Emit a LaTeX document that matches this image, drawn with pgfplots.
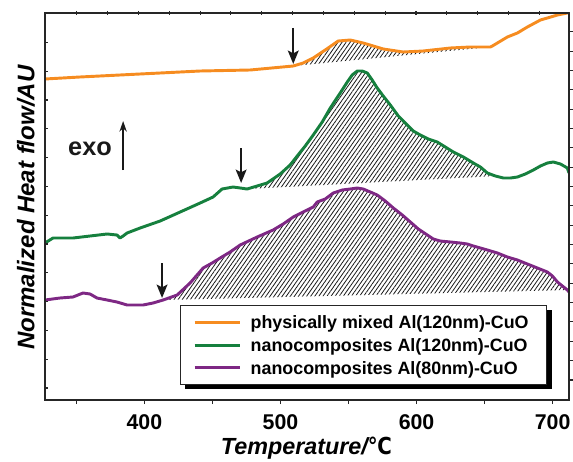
\documentclass[border=0pt]{standalone}
\usepackage{fontspec}
\setmainfont{Liberation Sans}
\newfontfamily\dejavu{DejaVu Sans}
\usepackage{pgfplots}
\pgfplotsset{compat=1.18}
\usetikzlibrary{patterns.meta,arrows.meta}
\definecolor{corange}{RGB}{246,140,32}
\definecolor{cgreen}{RGB}{22,128,62}
\definecolor{cpurple}{RGB}{126,40,132}
\newcommand{\lstrut}{\rule[-0.27em]{0pt}{1.14em}}
\tikzset{hatch/.style={draw=none, pattern={Lines[angle=55,distance=2.5pt,line width=0.6pt]}, pattern color=black!90}}
\pgfplotsset{frame/.style={at={(0,0)}, anchor=south west, width=393pt, height=290.25pt, scale only axis,
  xmin=327, xmax=712, ymin=0, ymax=38.7, axis line style={line width=1pt, black!85},
  every tick/.style={black!85, line width=0.8pt}}}
\begin{document}
\begin{tikzpicture}
\begin{axis}[frame,
  xtick={400,500,600,700}, minor xtick={350,450,550,650},
  xtick pos=bottom, ytick=\empty,
  tick align=outside, major tick length=3pt, minor tick length=3pt,
  xticklabel style={font=\fontsize{16}{16}\selectfont\bfseries, inner sep=0pt},
  xticklabel shift=7.5pt,
  /pgf/number format/assume math mode=true,
  xlabel={\bfseries\itshape Temperature/{\dejavu\bfseries\upshape\scalebox{0.85}[1]{℃}}},
  xlabel style={at={(axis description cs:0.499,-0.095)}, anchor=north, inner sep=0pt, font=\fontsize{17.5}{17.5}\selectfont},
  ylabel={\bfseries\itshape Normalized Heat flow/AU},
  ylabel style={at={(axis description cs:-0.019,0.497)}, anchor=south, inner sep=0pt, font=\fontsize{18}{18}\selectfont},
  legend style={at={(axis description cs:0.2576,0.2455)}, anchor=north west,
    draw=black!85, line width=0.6pt, fill=white,
    font=\fontsize{13.4}{13.4}\selectfont\bfseries,
    inner xsep=6pt, inner ysep=4pt, row sep=0pt, column sep=0pt,
    nodes={inner xsep=7pt},
    cells={anchor=west}},
  legend image code/.code={\path (0pt,0pt); \draw[#1] (3.5pt,0pt) -- (37.5pt,0pt);},
]
% legend shadow
\fill[black] (axis description cs:0.2672,0.2326) rectangle (axis description cs:0.9676,0.0284);
% hatched areas
\addplot[hatch, forget plot] coordinates {
(509.4,33.4)(516.7,33.7)(524.1,34.2)(532.9,35.0)(542.4,35.9)(551.3,36.0)(560.8,35.7)(568.2,35.4)(575.5,35.1)(590.2,34.8)(604.9,34.9)(624.8,35.2)(639.5,35.3)(654.2,35.3)
} -- cycle;
\addplot[hatch, forget plot] coordinates {
(475.5,21.1)(490.2,21.7)(499.8,22.6)(507.1,23.5)(512.3,24.4)(518.2,25.4)(524.1,26.5)(530.7,27.8)(536.6,29.2)(543.9,30.7)(549.1,31.8)(552.7,32.5)(556.4,32.9)(560.1,32.9)(563.8,32.7)(567.4,32.0)(571.1,31.2)(575.5,30.4)(580.7,29.5)(586.6,28.4)(593.2,27.5)(597.6,26.9)(602.7,26.5)(608.6,26.1)(615.2,25.8)(621.1,25.3)(627.0,24.8)(634.4,24.3)(641.7,23.7)(646.9,23.3)(652.0,22.7)(657.9,22.4)
} -- cycle;
\addplot[hatch, forget plot] coordinates {
(413.8,10.0)(424.1,10.5)(433.6,11.7)(443.2,13.2)(449.8,13.7)(455.7,14.2)(463.0,14.8)(470.4,15.5)(482.9,16.3)(494.6,17.0)(502.0,17.6)(509.4,18.3)(516.7,18.8)(524.1,19.3)(527.0,19.8)(532.9,20.1)(538.8,20.7)(545.4,21.0)(551.3,21.1)(556.4,21.2)(560.8,21.1)(566.0,20.8)(571.1,20.5)(577.0,19.9)(582.9,19.2)(589.5,18.5)(595.4,17.8)(601.3,17.1)(607.9,16.5)(612.3,16.1)(617.4,15.9)(624.8,15.8)(632.1,15.7)(637.3,15.6)(641.7,15.4)(646.9,15.2)(652.0,15.0)(659.4,14.7)(666.7,14.3)(674.1,14.0)(681.4,13.6)(688.8,13.2)(696.1,12.8)(699.8,12.4)(703.5,11.8)(707.1,11.4)(710.8,11.0)
} -- cycle;
% curves
\addplot[corange, line width=2.2pt, line join=round] coordinates {
(327.0,32.1)(352.7,32.3)(382.1,32.5)(411.6,32.7)(441.0,32.9)(477.7,33.0)(509.4,33.4)(516.7,33.7)(524.1,34.2)(532.9,35.0)(542.4,35.9)(551.3,36.0)(560.8,35.7)(568.2,35.4)(575.5,35.1)(590.2,34.8)(604.9,34.9)(624.8,35.2)(639.5,35.3)(654.2,35.3)(655.7,35.4)(666.7,36.3)(674.1,36.7)(681.4,37.3)(691.0,38.0)(696.1,38.2)(703.5,38.5)(710.8,38.7)(712.3,38.75)
};
\addlegendentry{\lstrut physically mixed Al(120nm)-CuO}
\addplot[cgreen, line width=2.2pt, line join=round] coordinates {
(327.0,15.7)(332.9,16.2)(347.6,16.2)(360.1,16.4)(372.6,16.6)(379.9,16.5)(382.1,16.2)(384.4,16.4)(387.3,16.7)(396.9,17.2)(411.6,17.9)(426.3,18.8)(441.0,19.7)(450.5,20.3)(457.1,21.1)(465.2,21.3)(470.4,21.2)(475.5,21.1)(490.2,21.7)(499.8,22.6)(507.1,23.5)(512.3,24.4)(518.2,25.4)(524.1,26.5)(530.7,27.8)(536.6,29.2)(543.9,30.7)(549.1,31.8)(552.7,32.5)(556.4,32.9)(560.1,32.9)(563.8,32.7)(567.4,32.0)(571.1,31.2)(575.5,30.4)(580.7,29.5)(586.6,28.4)(593.2,27.5)(597.6,26.9)(602.7,26.5)(608.6,26.1)(615.2,25.8)(621.1,25.3)(627.0,24.8)(634.4,24.3)(641.7,23.7)(646.9,23.3)(652.0,22.7)(657.9,22.4)(663.8,22.2)(668.9,22.2)(674.1,22.3)(679.9,22.6)(685.8,23.0)(691.0,23.4)(696.1,23.7)(700.5,23.8)(705.7,23.6)(710.8,23.2)(712.0,22.7)
};
\addlegendentry{\lstrut nanocomposites Al(120nm)-CuO}
\addplot[cpurple, line width=2.2pt, line join=round] coordinates {
(327.0,10.0)(338.0,10.2)(347.6,10.3)(354.9,10.7)(360.1,10.6)(365.2,10.2)(372.6,10.0)(379.9,9.8)(387.3,9.5)(399.1,9.5)(406.4,9.7)(413.8,10.0)(424.1,10.5)(433.6,11.7)(443.2,13.2)(449.8,13.7)(455.7,14.2)(463.0,14.8)(470.4,15.5)(482.9,16.3)(494.6,17.0)(502.0,17.6)(509.4,18.3)(516.7,18.8)(524.1,19.3)(527.0,19.8)(532.9,20.1)(538.8,20.7)(545.4,21.0)(551.3,21.1)(556.4,21.2)(560.8,21.1)(566.0,20.8)(571.1,20.5)(577.0,19.9)(582.9,19.2)(589.5,18.5)(595.4,17.8)(601.3,17.1)(607.9,16.5)(612.3,16.1)(617.4,15.9)(624.8,15.8)(632.1,15.7)(637.3,15.6)(641.7,15.4)(646.9,15.2)(652.0,15.0)(659.4,14.7)(666.7,14.3)(674.1,14.0)(681.4,13.6)(688.8,13.2)(696.1,12.8)(699.8,12.4)(703.5,11.8)(707.1,11.4)(710.8,11.0)(712.0,10.8)
};
\addlegendentry{\lstrut nanocomposites Al(80nm)-CuO}
% annotations
\draw[black!90, line width=1.8pt, -{Stealth[length=10pt,width=8pt,inset=2pt]}] (509.4,37.2) -- (509.4,33.6);
\draw[black!90, line width=1.8pt, -{Stealth[length=10pt,width=8pt,inset=2pt]}] (471.1,25.2) -- (471.1,21.7);
\draw[black!90, line width=1.8pt, -{Stealth[length=10pt,width=8pt,inset=2pt]}] (413.0,13.7) -- (413.0,10.2);
\node[anchor=base, font=\fontsize{19}{19}\selectfont\bfseries, inner sep=0pt, black!90] at (360.1,24.5) {exo};
\draw[black!90, line width=1.2pt, -{Stealth[length=8pt,width=5.5pt]}] (384.4,23.0) -- (384.4,27.9);
\end{axis}
% left ticks (inside)
\begin{axis}[frame, hide x axis, axis y line*=left, ytick={1.2,4.08,...,38.7}, yticklabels={},
  tick align=inside, major tick length=2pt]
\end{axis}
% right ticks (outside)
\begin{axis}[frame, hide x axis, axis y line*=right, ytick={2.0,3.935,...,37.0}, yticklabels={},
  tick align=outside, major tick length=3pt]
\end{axis}
% top ticks
\begin{axis}[frame, hide y axis, axis x line*=top, xtick={350.3,372.96,...,691}, xticklabels={},
  tick align=center, major tick length=3pt]
\end{axis}
\pgfresetboundingbox
\path[use as bounding box] (-33.75pt,-45.75pt) rectangle (396pt,300pt);
\end{tikzpicture}
\end{document}
